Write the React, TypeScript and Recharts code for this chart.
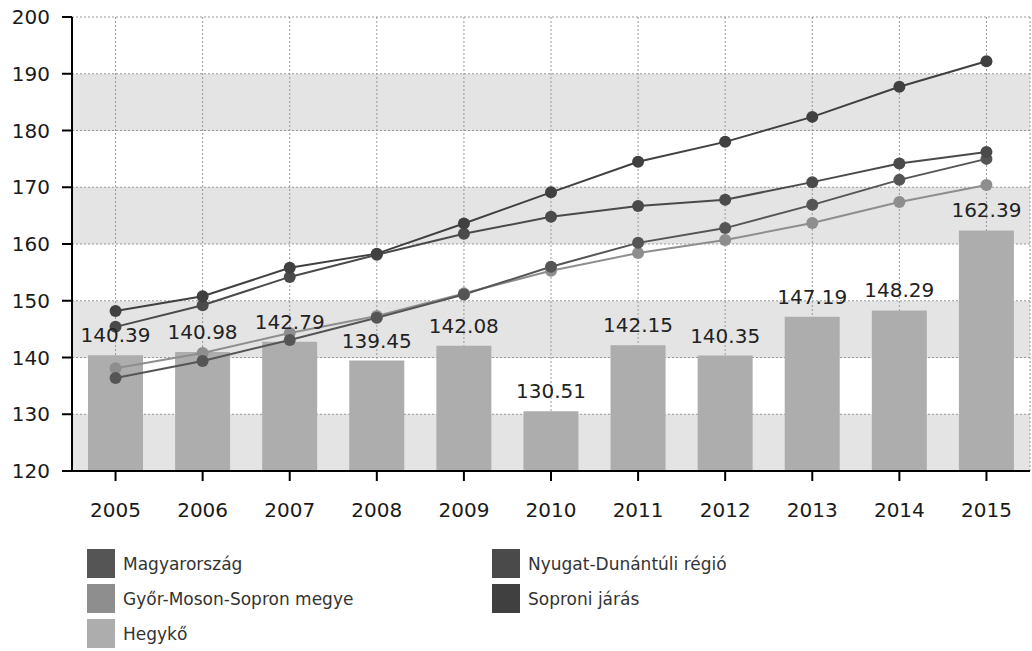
import { ComposedChart, Bar, Line, XAxis, YAxis, CartesianGrid, LabelList } from "recharts";

const years = ["2005", "2006", "2007", "2008", "2009", "2010", "2011", "2012", "2013", "2014", "2015"];
const hegyko = [140.39, 140.98, 142.79, 139.45, 142.08, 130.51, 142.15, 140.35, 147.19, 148.29, 162.39];
const soproni = [148.2, 150.8, 155.8, 158.3, 163.6, 169.1, 174.5, 178.0, 182.4, 187.7, 192.2];
const nyugat = [145.4, 149.2, 154.2, 158.1, 161.8, 164.8, 166.7, 167.8, 170.9, 174.2, 176.2];
const magyar = [136.4, 139.4, 143.1, 147.0, 151.1, 156.0, 160.2, 162.8, 166.9, 171.3, 175.0];
const gyor = [138.1, 140.8, 144.3, 147.3, 151.3, 155.3, 158.4, 160.7, 163.7, 167.4, 170.4];
const yTicks = [120, 130, 140, 150, 160, 170, 180, 190, 200];

const data = years.map((y, i) => ({
  year: y,
  hegyko: hegyko[i],
  soproni: soproni[i],
  nyugat: nyugat[i],
  magyar: magyar[i],
  gyor: gyor[i],
}));

const colors = {
  magyar: "#555555",
  gyor: "#8e8e8e",
  hegyko: "#adadad",
  nyugat: "#4a4a4a",
  soproni: "#404040",
};

const legendLeft = [
  { name: "Magyarország", color: colors.magyar },
  { name: "Győr-Moson-Sopron megye", color: colors.gyor },
  { name: "Hegykő", color: colors.hegyko },
];
const legendRight = [
  { name: "Nyugat-Dunántúli régió", color: colors.nyugat },
  { name: "Soproni járás", color: colors.soproni },
];

const font = "'DejaVu Sans', Verdana, sans-serif";
const tickStyle = { fontSize: 20, fill: "#1a1a1a", fontFamily: font };

function LegendCol({ items, left }: { items: { name: string; color: string }[]; left: number }) {
  return (
    <div style={{ position: "absolute", left, top: 549 }}>
      {items.map((it) => (
        <div key={it.name} style={{ display: "flex", alignItems: "center", height: 29, marginBottom: 6 }}>
          <div style={{ width: 28, height: 29, background: it.color }} />
          <span style={{ marginLeft: 8, fontSize: 17, color: "#333", fontFamily: font }}>{it.name}</span>
        </div>
      ))}
    </div>
  );
}

export default function App() {
  return (
    <div style={{ position: "absolute", left: 0, top: 0, width: 1032, height: 651, background: "#fff" }}>
      <ComposedChart
        width={1032}
        height={530}
        data={data}
        margin={{ top: 17, right: 2, left: 0, bottom: 0 }}
        barCategoryGap={0}
      >
        <CartesianGrid
          stroke="#999"
          strokeDasharray="2 2"
          horizontalFill={["#ffffff", "#e4e4e4"]}
        />
        <XAxis
          dataKey="year"
          height={59}
          tick={tickStyle}
          tickSize={10}
          tickMargin={22}
          axisLine={{ stroke: "#000", strokeWidth: 2 }}
          tickLine={{ stroke: "#000", strokeWidth: 2 }}
        />
        <YAxis
          width={72}
          domain={[120, 200]}
          ticks={yTicks}
          tick={tickStyle}
          tickSize={10}
          tickMargin={12}
          axisLine={{ stroke: "#000", strokeWidth: 2 }}
          tickLine={{ stroke: "#000", strokeWidth: 2 }}
          allowDataOverflow
        />
        <Bar dataKey="hegyko" fill={colors.hegyko} barSize={55} isAnimationActive={false}>
          <LabelList
            dataKey="hegyko"
            position="top"
            offset={13}
            style={{ fontSize: 20, fill: "#222", fontFamily: font }}
          />
        </Bar>
        <Line type="linear" dataKey="gyor" stroke={colors.gyor} strokeWidth={2}
          dot={{ r: 6, fill: colors.gyor, stroke: "none" }} isAnimationActive={false} />
        <Line type="linear" dataKey="magyar" stroke={colors.magyar} strokeWidth={2}
          dot={{ r: 6, fill: colors.magyar, stroke: "none" }} isAnimationActive={false} />
        <Line type="linear" dataKey="nyugat" stroke={colors.nyugat} strokeWidth={2}
          dot={{ r: 6, fill: colors.nyugat, stroke: "none" }} isAnimationActive={false} />
        <Line type="linear" dataKey="soproni" stroke={colors.soproni} strokeWidth={2}
          dot={{ r: 6, fill: colors.soproni, stroke: "none" }} isAnimationActive={false} />
      </ComposedChart>
      <LegendCol items={legendLeft} left={87} />
      <LegendCol items={legendRight} left={492} />
    </div>
  );
}
